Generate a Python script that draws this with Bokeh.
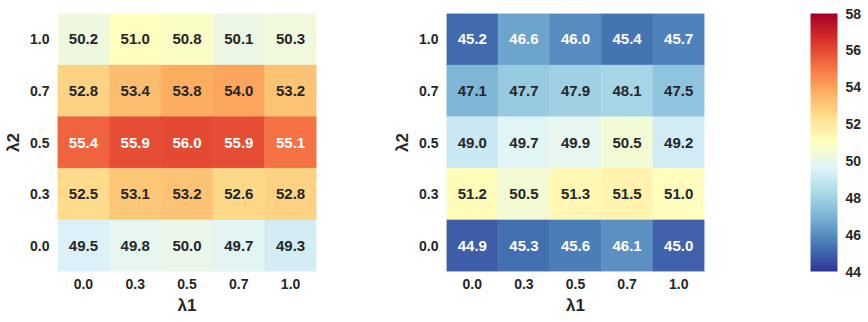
from bokeh.plotting import figure
from bokeh.layouts import row
from bokeh.models import (ColumnDataSource, LinearColorMapper, ColorBar, FixedTicker,
                          FactorRange)
from bokeh.embed import file_html
from bokeh.resources import INLINE
from bokeh.core.properties import value

# ---- data ----
lam1 = ["0.0", "0.3", "0.5", "0.7", "1.0"]
lam2 = ["0.0", "0.3", "0.5", "0.7", "1.0"]  # bottom -> top

# rows listed top (λ2=1.0) to bottom (λ2=0.0); columns λ1 = 0.0 .. 1.0
left_rows = [
    [50.2, 51.0, 50.8, 50.1, 50.3],
    [52.8, 53.4, 53.8, 54.0, 53.2],
    [55.4, 55.9, 56.0, 55.9, 55.1],
    [52.5, 53.1, 53.2, 52.6, 52.8],
    [49.5, 49.8, 50.0, 49.7, 49.3],
]
right_rows = [
    [45.2, 46.6, 46.0, 45.4, 45.7],
    [47.1, 47.7, 47.9, 48.1, 47.5],
    [49.0, 49.7, 49.9, 50.5, 49.2],
    [51.2, 50.5, 51.3, 51.5, 51.0],
    [44.9, 45.3, 45.6, 46.1, 45.0],
]
row_labels = ["1.0", "0.7", "0.5", "0.3", "0.0"]
vmin, vmax = 44, 58
cbar_ticks = [44, 46, 48, 50, 52, 54, 56, 58]

# ---- colormap (RdYlBu reversed, 256 steps) ----
anchors = ["#313695", "#4575b4", "#74add1", "#abd9e9", "#e0f3f8", "#ffffbf",
           "#fee090", "#fdae61", "#f46d43", "#d73027", "#a50026"]
def hex2rgb(h):
    return tuple(int(h[i:i + 2], 16) for i in (1, 3, 5))
argb = [hex2rgb(a) for a in anchors]
N = 256
palette = []
rgb_list = []
for i in range(N):
    t = i / (N - 1) * (len(argb) - 1)
    k = min(int(t), len(argb) - 2)
    f = t - k
    c = tuple(argb[k][j] + (argb[k + 1][j] - argb[k][j]) * f for j in range(3))
    rgb_list.append(c)
    palette.append("#%02x%02x%02x" % tuple(int(round(v)) for v in c))

def lum(c):
    out = []
    for v in c:
        v = v / 255.0
        out.append(v / 12.92 if v <= 0.03928 else ((v + 0.055) / 1.055) ** 2.4)
    return 0.2126 * out[0] + 0.7152 * out[1] + 0.0722 * out[2]

def text_color(v):
    idx = int((v - vmin) / (vmax - vmin) * N)
    idx = max(0, min(N - 1, idx))
    return "#ffffff" if lum(rgb_list[idx]) <= 0.408 else "#262626"

mapper = LinearColorMapper(palette=palette, low=vmin, high=vmax)

FONT = "Liberation Sans"
DARK = "#262626"
H = 322
TOP, BOTTOM = 13, 50

def heatmap(rows, width, left, right):
    xs, ys, vs, labels, tcol = [], [], [], [], []
    for r, yl in zip(rows, row_labels):
        for v, xl in zip(r, lam1):
            xs.append(xl); ys.append(yl); vs.append(v)
            labels.append("%.1f" % v); tcol.append(text_color(v))
    src = ColumnDataSource(dict(x=xs, y=ys, v=vs, label=labels, tc=tcol))
    p = figure(width=width, height=H, x_range=FactorRange(*lam1),
               y_range=FactorRange(*lam2), output_backend="svg",
               toolbar_location=None, min_border_left=left, min_border_right=right,
               min_border_top=TOP, min_border_bottom=BOTTOM)
    p.rect(x="x", y="y", width=1, height=1, source=src,
           fill_color={"field": "v", "transform": mapper},
           line_color={"field": "v", "transform": mapper}, line_width=0.5)
    p.text(x="x", y="y", text="label", source=src, text_color="tc",
           text_align="center", text_baseline="middle",
           text_font=value(FONT), text_font_size="15px", text_font_style="bold")
    p.outline_line_color = None
    p.grid.visible = False
    p.x_range.range_padding = 0
    p.y_range.range_padding = 0
    for ax in (p.xaxis[0], p.yaxis[0]):
        ax.axis_line_color = None
        ax.major_tick_line_color = None
        ax.minor_tick_line_color = None
        ax.major_tick_out = 0
        ax.major_tick_in = 0
        ax.minor_tick_out = 0
        ax.major_label_text_font = FONT
        ax.major_label_text_font_style = "bold"
        ax.major_label_text_font_size = "14px"
        ax.major_label_text_color = DARK
        ax.axis_label_text_font = FONT
        ax.axis_label_text_font_style = "bold"
        ax.axis_label_text_font_size = "17px"
        ax.axis_label_text_color = DARK
    p.xaxis.axis_label = "λ1"
    p.yaxis.axis_label = "λ2"
    p.xaxis.major_label_standoff = 7
    p.yaxis.major_label_standoff = 8
    p.xaxis.axis_label_standoff = 4
    p.yaxis.axis_label_standoff = 4
    return p

p1 = heatmap(left_rows, 390, 57, 74)
p2 = heatmap(right_rows, 370, 55, 56)

p3 = figure(width=108, height=H, output_backend="svg", toolbar_location=None,
            x_axis_type=None, y_axis_type=None, min_border_left=50,
            min_border_right=0, min_border_top=TOP, min_border_bottom=H - TOP - 258)
p3.outline_line_color = None
p3.grid.visible = False
p3.scatter(x=[], y=[])
cb = ColorBar(color_mapper=mapper, ticker=FixedTicker(ticks=cbar_ticks),
              width=27, height=258, location=(0, 0), margin=0, padding=0,
              label_standoff=8, major_tick_line_color=None, bar_line_color=None,
              border_line_color=None, background_fill_alpha=0,
              major_tick_out=0, major_tick_in=0,
              major_label_text_font=FONT, major_label_text_font_style="bold",
              major_label_text_font_size="14px", major_label_text_color=DARK)
p3.add_layout(cb, "center")

layout = row(p1, p2, p3, spacing=0)
open("out.html", "w").write(file_html(layout, INLINE))
